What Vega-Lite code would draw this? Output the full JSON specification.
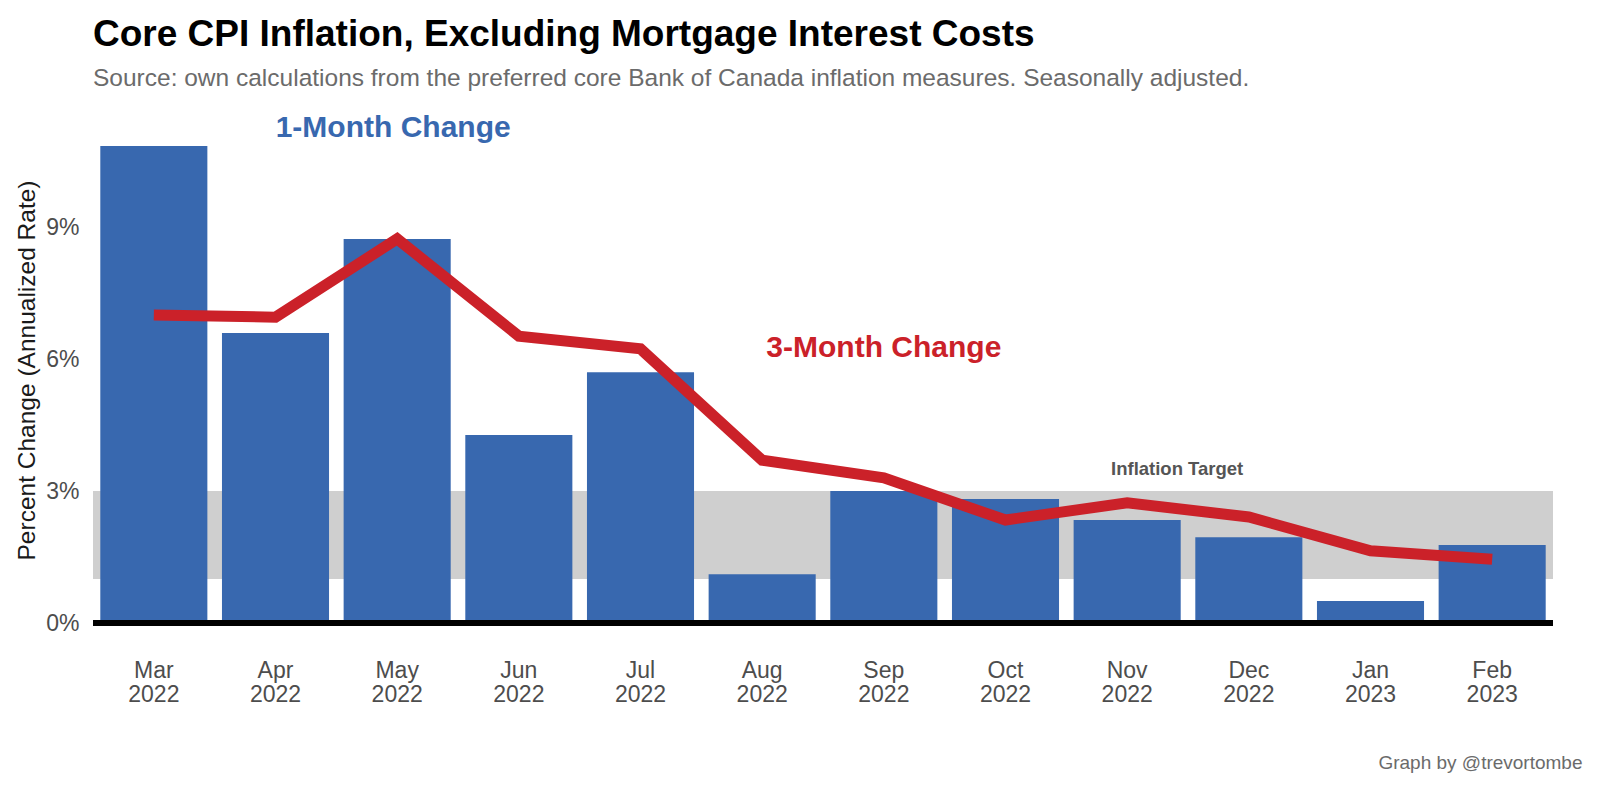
{
  "$schema": "https://vega.github.io/schema/vega-lite/v6.json",
  "autosize": {"type": "none"},
  "width": 1460,
  "height": 506,
  "padding": {"left": 93, "top": 117, "right": 47, "bottom": 177},
  "background": "white",
  "config": {
    "view": {"stroke": null},
    "font": "Liberation Sans"
  },
  "title": {
    "text": "Core CPI Inflation, Excluding Mortgage Interest Costs",
    "subtitle": "Source: own calculations from the preferred core Bank of Canada inflation measures. Seasonally adjusted.",
    "anchor": "start",
    "frame": "group",
    "fontSize": 37,
    "fontWeight": "bold",
    "color": "#000000",
    "subtitleFontSize": 24.5,
    "subtitleColor": "#6b6b6b",
    "subtitlePadding": 13,
    "offset": 22
  },
  "datasets": {
    "cpi": [
      {"month": "Mar 2022", "m1": 10.84, "m3": 7.0},
      {"month": "Apr 2022", "m1": 6.59, "m3": 6.95},
      {"month": "May 2022", "m1": 8.73, "m3": 8.73},
      {"month": "Jun 2022", "m1": 4.27, "m3": 6.52},
      {"month": "Jul 2022", "m1": 5.7, "m3": 6.23},
      {"month": "Aug 2022", "m1": 1.11, "m3": 3.7},
      {"month": "Sep 2022", "m1": 3.0, "m3": 3.3},
      {"month": "Oct 2022", "m1": 2.82, "m3": 2.34},
      {"month": "Nov 2022", "m1": 2.34, "m3": 2.73},
      {"month": "Dec 2022", "m1": 1.95, "m3": 2.41},
      {"month": "Jan 2023", "m1": 0.5, "m3": 1.64},
      {"month": "Feb 2023", "m1": 1.77, "m3": 1.45}
    ]
  },
  "data": {"name": "cpi"},
  "encoding": {
    "x": {
      "field": "month",
      "type": "nominal",
      "sort": null,
      "scale": {"paddingInner": 0.12, "paddingOuter": 0.06},
      "axis": {
        "title": "Graph by @trevortombe",
        "titleFontSize": 19,
        "titleFontWeight": "normal",
        "titleColor": "#6b6b6b",
        "titleAlign": "right",
        "titleAnchor": "end",
        "titleBaseline": "alphabetic",
        "titleX": 1489,
        "titleY": 145,
        "labelExpr": "split(datum.label, ' ')",
        "labelAngle": 0,
        "labelFontSize": 23,
        "labelColor": "#4d4d4d",
        "labelPadding": 36,
        "labelLineHeight": 24,
        "domain": false,
        "ticks": false,
        "grid": false
      }
    }
  },
  "layer": [
    {
      "mark": {"type": "rect", "color": "#cfcfcf"},
      "encoding": {
        "x": null,
        "y": {"datum": 1, "type": "quantitative"},
        "y2": {"datum": 3}
      }
    },
    {
      "mark": {"type": "bar", "color": "#3868af"},
      "encoding": {
        "y": {
          "field": "m1",
          "type": "quantitative",
          "scale": {"domain": [0, 11.5], "nice": false},
          "axis": {
            "values": [0, 3, 6, 9],
            "labelExpr": "datum.value + '%'",
            "labelFontSize": 23,
            "labelColor": "#4d4d4d",
            "labelPadding": 14,
            "domain": false,
            "ticks": false,
            "gridColor": "#ebebeb",
            "gridWidth": 2,
            "title": "Percent Change (Annualized Rate)",
            "titleFontSize": 24.5,
            "titleFontWeight": "normal",
            "titleColor": "#1a1a1a",
            "titlePadding": 6
          }
        }
      }
    },
    {
      "mark": {"type": "line", "color": "#cb2129", "strokeWidth": 11, "strokeCap": "butt", "strokeJoin": "miter"},
      "encoding": {
        "y": {"field": "m3", "type": "quantitative"}
      }
    },
    {
      "mark": {"type": "rule", "color": "#000000", "strokeWidth": 5},
      "encoding": {
        "x": null,
        "y": {"datum": 0, "type": "quantitative"}
      }
    },
    {
      "data": {"values": [{"month": "May 2022", "v": 11.25, "label": "1-Month Change"}]},
      "mark": {"type": "text", "color": "#3868af", "fontSize": 30, "fontWeight": "bold", "dx": -4},
      "encoding": {
        "y": {"field": "v", "type": "quantitative"},
        "text": {"field": "label"}
      }
    },
    {
      "data": {"values": [{"month": "Sep 2022", "v": 6.25, "label": "3-Month Change"}]},
      "mark": {"type": "text", "color": "#cb2129", "fontSize": 30, "fontWeight": "bold"},
      "encoding": {
        "y": {"field": "v", "type": "quantitative"},
        "text": {"field": "label"}
      }
    },
    {
      "data": {"values": [{"month": "Nov 2022", "v": 3.5, "label": "Inflation Target"}]},
      "mark": {"type": "text", "color": "#555555", "fontSize": 18.5, "fontWeight": "bold", "dx": 50},
      "encoding": {
        "y": {"field": "v", "type": "quantitative"},
        "text": {"field": "label"}
      }
    }
  ]
}
